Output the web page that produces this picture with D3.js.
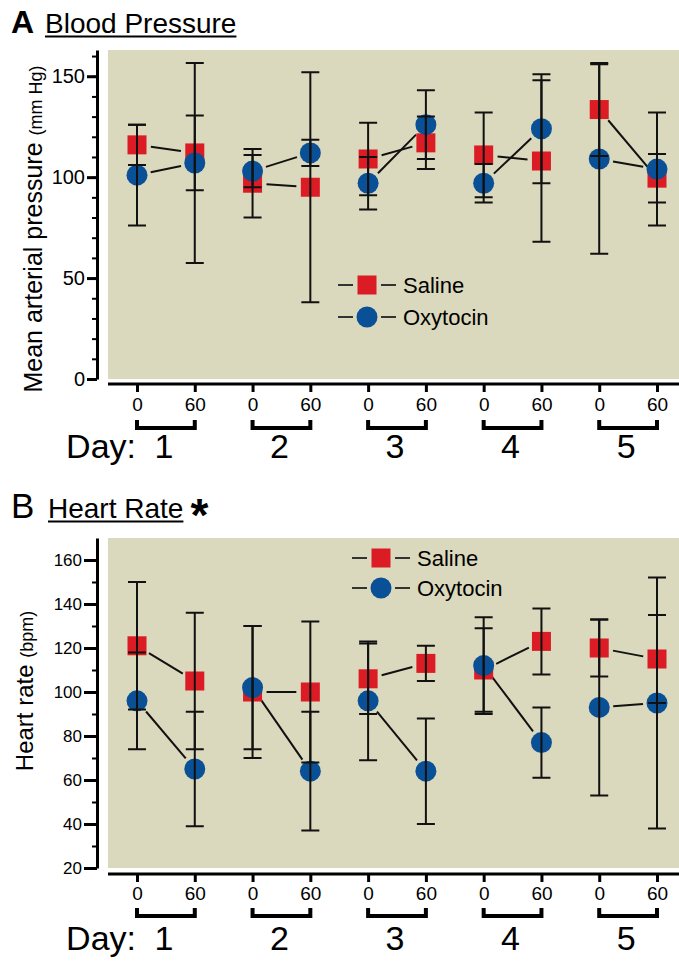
<!DOCTYPE html>
<html>
<head>
<meta charset="utf-8">
<script src="https://cdn.jsdelivr.net/npm/d3@7"></script>
<style>
  body { margin: 0; background: #fff; }
  text { font-family: "Liberation Sans", Arial, sans-serif; }
</style>
</head>
<body>
<div id="chart"></div>
<script>
// categories
var days = [1, 2, 3, 4, 5];
var times = ["0", "60"];
var points = [];
days.forEach(function(d) { times.forEach(function(t) { points.push(d + "-" + t); }); });

// A: blood pressure (mean, error)
var bpSaline    = [116, 112, 97, 95, 109, 117, 111, 108, 133.5, 99.5];
var bpSalineErr = [10, 18.5, 17, 57, 18, 13, 21, 40, 23, 12];
var bpOxy       = [101, 107, 103, 112, 97, 126, 97, 124, 109, 104];
var bpOxyErr    = [25, 49.5, 8, 6.5, 13, 17, 9.5, 27, 47, 28];

// B: heart rate (mean, error)
var hrSaline    = [121, 105, 100, 100, 106, 113, 110, 123, 120, 115];
var hrSalineErr = [29, 31, 30, 32, 16, 8, 19, 15, 13, 20];
var hrOxy       = [96, 65, 102, 64, 96, 64, 112, 77, 93, 95];
var hrOxyErr    = [22, 26, 28, 27, 27, 24, 22, 16, 40, 57];

var bpTicks = [0, 50, 100, 150];
var hrTicks = [20, 40, 60, 80, 100, 120, 140, 160];

var RED = "#dc1c24", BLUE = "#0a5096", BG = "#dbd9bd";

var svg = d3.select("#chart").append("svg")
  .attr("width", 679)
  .attr("height", 961);

var x = d3.scalePoint().domain(points).range([137, 657]);

function drawPanel(p) {
  var g = svg.append("g");
  var y = d3.scaleLinear().domain(p.domain).range([p.bottom, p.top]);

  // background
  g.append("rect")
    .attr("x", 108).attr("y", p.top)
    .attr("width", 679 - 108).attr("height", p.bottom - p.top)
    .attr("fill", BG);

  // title
  g.append("text").attr("x", 11).attr("y", p.titleY)
    .style("font-size", p.letterSize + "px").style("font-weight", p.letterBold ? "bold" : "normal")
    .text(p.letter);
  var t = g.append("text").attr("x", p.titleX).attr("y", p.titleY)
    .style("font-size", p.titleSize + "px").text(p.title);
  var tw = t.node().getComputedTextLength();
  g.append("line")
    .attr("x1", p.titleX).attr("x2", p.titleX + tw)
    .attr("y1", p.titleY + 3.5).attr("y2", p.titleY + 3.5)
    .attr("stroke", "#000").attr("stroke-width", 2);
  if (p.star) {
    g.append("text").attr("x", p.titleX + tw + 7).attr("y", p.titleY + 13)
      .style("font-size", "46px").style("font-weight", "bold").text("*");
  }

  // y axis: minor then major
  var yMinor = g.append("g").attr("transform", "translate(97,0)")
    .call(d3.axisLeft(y).tickValues(d3.range(p.tickStart, p.domain[1], 10)).tickSize(5).tickSizeOuter(0).tickFormat(""));
  yMinor.select(".domain").attr("stroke-width", 3);
  yMinor.selectAll(".tick line").attr("stroke-width", 2);
  var yMajor = g.append("g").attr("transform", "translate(97,0)")
    .call(d3.axisLeft(y).tickValues(p.ticks).tickSize(p.majorSize).tickPadding(2).tickSizeOuter(0));
  yMajor.select(".domain").remove();
  yMajor.selectAll(".tick line").attr("stroke-width", 3);
  yMajor.selectAll(".tick text").style("font-size", p.yTickSize + "px")
    .style("font-family", "'Liberation Sans', Arial, sans-serif");

  // y label
  var yl = g.append("text")
    .attr("transform", "translate(" + p.ylabelX + "," + p.ylabelY + ") rotate(-90)")
    .attr("text-anchor", "middle");
  yl.append("tspan").style("font-size", p.ylabelSize + "px").text(p.ylabel + " ");
  yl.append("tspan").style("font-size", "18px").text(p.yunit);

  // x axis
  var xa = g.append("g").attr("transform", "translate(0," + p.xAxisY + ")");
  xa.append("line").attr("x1", 108).attr("x2", 679)
    .attr("stroke", "#000").attr("stroke-width", 3);
  xa.call(d3.axisBottom(x).tickSize(8).tickPadding(p.xPad).tickFormat(function(d) { return d.split("-")[1]; }));
  xa.select(".domain").remove();
  xa.selectAll(".tick line").attr("stroke-width", 3);
  xa.selectAll(".tick text").style("font-size", "19px")
    .style("font-family", "'Liberation Sans', Arial, sans-serif");

  // day brackets
  days.forEach(function(d) {
    var x0 = x(d + "-0"), x1 = x(d + "-60");
    g.append("path")
      .attr("d", "M" + x0 + "," + p.brTop + "V" + (p.brTop + 8) + "H" + x1 + "V" + p.brTop)
      .attr("fill", "none").attr("stroke", "#000").attr("stroke-width", 4);
    g.append("text").attr("x", (x0 + x1) / 2 - 2).attr("y", p.dayY)
      .attr("text-anchor", "middle").style("font-size", "34px").text(d);
  });
  g.append("text").attr("x", 136).attr("y", p.dayY)
    .attr("text-anchor", "end").style("font-size", "34px").text("Day:");

  var series = [
    {vals: p.saline, err: p.salineErr, color: RED, shape: "square"},
    {vals: p.oxy, err: p.oxyErr, color: BLUE, shape: "circle"}
  ];

  // connecting lines within each day (with gaps near markers)
  series.forEach(function(s) {
    days.forEach(function(d, i) {
      var ax = x(d + "-0"), ay = y(s.vals[i * 2]);
      var bx = x(d + "-60"), by = y(s.vals[i * 2 + 1]);
      var len = Math.hypot(bx - ax, by - ay), gap = 14;
      var ux = (bx - ax) / len, uy = (by - ay) / len;
      g.append("line")
        .attr("x1", ax + ux * gap).attr("y1", ay + uy * gap)
        .attr("x2", bx - ux * gap).attr("y2", by - uy * gap)
        .attr("stroke", "#111").attr("stroke-width", 2);
    });
  });

  // markers
  series.forEach(function(s) {
    var mk = g.append("g").selectAll("mk").data(s.vals).enter();
    if (s.shape === "square") {
      mk.append("rect")
        .attr("x", function(d, i) { return x(points[i]) - 9.5; })
        .attr("y", function(d) { return y(d) - 9.5; })
        .attr("width", 19).attr("height", 19).attr("fill", s.color);
    } else {
      mk.append("circle")
        .attr("cx", function(d, i) { return x(points[i]); })
        .attr("cy", function(d) { return y(d); })
        .attr("r", 10.5).attr("fill", s.color);
    }
  });

  // error bars on top
  series.forEach(function(s) {
    s.vals.forEach(function(v, i) {
      var cx = x(points[i]), hi = y(v + s.err[i]), lo = y(v - s.err[i]);
      g.append("path")
        .attr("d", "M" + cx + "," + hi + "V" + lo +
                   "M" + (cx - 9) + "," + hi + "H" + (cx + 9) +
                   "M" + (cx - 9) + "," + lo + "H" + (cx + 9))
        .attr("fill", "none").attr("stroke", "#111").attr("stroke-width", 2);
    });
  });

  // legend
  series.forEach(function(s, i) {
    var ly = p.legY + i * p.legStep, lx = p.legX;
    g.append("line").attr("x1", lx - 29).attr("x2", lx - 14).attr("y1", ly).attr("y2", ly)
      .attr("stroke", "#333").attr("stroke-width", 2);
    g.append("line").attr("x1", lx + 14).attr("x2", lx + 29).attr("y1", ly).attr("y2", ly)
      .attr("stroke", "#333").attr("stroke-width", 2);
    if (s.shape === "square") {
      g.append("rect").attr("x", lx - 9.5).attr("y", ly - 9.5).attr("width", 19).attr("height", 19).attr("fill", s.color);
    } else {
      g.append("circle").attr("cx", lx).attr("cy", ly).attr("r", 10.5).attr("fill", s.color);
    }
    g.append("text").attr("x", lx + 36).attr("y", ly + 8)
      .style("font-size", "22px").text(i === 0 ? "Saline" : "Oxytocin");
  });
}

drawPanel({
  letter: "A", letterBold: true, letterSize: 32, title: "Blood Pressure", titleSize: 28,
  titleX: 45, titleY: 33, star: false,
  top: 50, bottom: 379, domain: [0, 163], ticks: bpTicks, tickStart: 0, majorSize: 10, yTickSize: 20,
  ylabel: "Mean arterial pressure", yunit: "(mm Hg)", ylabelSize: 25, ylabelX: 42, ylabelY: 229,
  xAxisY: 384, xPad: 6, brTop: 420, dayY: 458,
  saline: bpSaline, salineErr: bpSalineErr, oxy: bpOxy, oxyErr: bpOxyErr,
  legX: 367, legY: 285, legStep: 32
});

drawPanel({
  letter: "B", letterBold: false, letterSize: 35, title: "Heart Rate", titleSize: 28,
  titleX: 48, titleY: 518, star: true,
  top: 538, bottom: 868, domain: [20, 170], ticks: hrTicks, tickStart: 20, majorSize: 13, yTickSize: 17,
  ylabel: "Heart rate", yunit: "(bpm)", ylabelSize: 24, ylabelX: 33, ylabelY: 691,
  xAxisY: 874, xPad: 5, brTop: 908, dayY: 950,
  saline: hrSaline, salineErr: hrSalineErr, oxy: hrOxy, oxyErr: hrOxyErr,
  legX: 381, legY: 558, legStep: 30
});
</script>
</body>
</html>
